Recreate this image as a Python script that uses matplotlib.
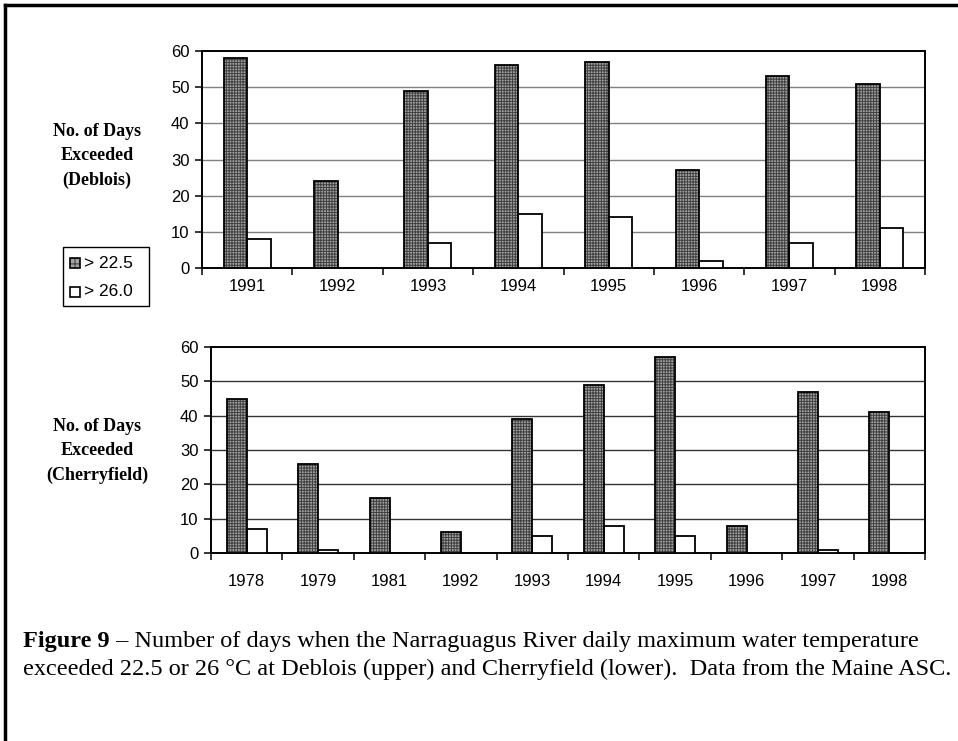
import matplotlib
matplotlib.use("Agg")
import matplotlib.pyplot as plt
from matplotlib.patches import Rectangle
from matplotlib.lines import Line2D
import numpy as np

# ---- data ----
years_deblois = ["1991", "1992", "1993", "1994", "1995", "1996", "1997", "1998"]
deblois_225 = [58, 24, 49, 56, 57, 27, 53, 51]
deblois_260 = [8, 0, 7, 15, 14, 2, 7, 11]

years_cherry = ["1978", "1979", "1981", "1992", "1993", "1994", "1995", "1996", "1997", "1998"]
cherry_225 = [45, 26, 16, 6, 39, 49, 57, 8, 47, 41]
cherry_260 = [7, 1, 0, 0, 5, 8, 5, 0, 1, 0]

series_labels = ["> 22.5", "> 26.0"]
yticks = [0, 10, 20, 30, 40, 50, 60]

W, H = 958, 741
fig = plt.figure(figsize=(W / 100, H / 100), dpi=100)
plt.rcParams['hatch.linewidth'] = 0.7

SANS = ["Liberation Sans", "DejaVu Sans"]
SERIF = ["Liberation Serif", "DejaVu Serif"]
DARK_FACE = "#a2a2a2"
HATCH_COL = "#404040"
HATCH = "++++++"

def px_axes(l, t, r, b):
    return fig.add_axes([l / W, 1 - b / H, (r - l) / W, (b - t) / H])

def draw(ax, cats, v1, v2, bw, gridcolor, xpad):
    x = np.arange(len(cats))
    # hatched fill, then black outline
    ax.bar(x - bw / 2, v1, bw, facecolor=DARK_FACE, edgecolor=HATCH_COL,
           hatch=HATCH, linewidth=0, zorder=3)
    ax.bar(x - bw / 2, v1, bw, fill=False, edgecolor="black", linewidth=1.3, zorder=4)
    ax.bar(x + bw / 2, v2, bw, facecolor="white", edgecolor="black",
           linewidth=1.3, zorder=3)
    ax.set_xlim(-0.5, len(cats) - 0.5)
    ax.set_ylim(0, 60)
    ax.set_yticks(yticks)
    ax.set_yticklabels([str(v) for v in yticks], fontfamily=SANS, fontsize=12)
    ax.set_xticks(x)
    ax.set_xticklabels(cats, fontfamily=SANS, fontsize=12)
    ax.set_xticks(np.arange(len(cats) + 1) - 0.5, minor=True)
    ax.tick_params(axis="x", which="major", length=0, pad=xpad)
    ax.tick_params(axis="x", which="minor", length=5, width=1.1, direction="out")
    ax.tick_params(axis="y", length=5, width=1.1, direction="out", pad=4)
    for s in ax.spines.values():
        s.set_linewidth(1.4)
    for v in yticks[1:-1]:
        ax.axhline(v, color=gridcolor, linewidth=1.0, zorder=1)

ax1 = px_axes(202, 51, 925, 268)
draw(ax1, years_deblois, deblois_225, deblois_260, 0.26, "#808080", 8)
ax2 = px_axes(211, 347, 925, 553)
draw(ax2, years_cherry, cherry_225, cherry_260, 0.28, "#333333", 15)

# y labels
fig.text(97 / W, 1 - 156 / H, "No. of Days\nExceeded\n(Deblois)", ha="center", va="center",
         fontfamily=SERIF, fontweight="bold", fontsize=13, linespacing=1.55)
fig.text(97 / W, 1 - 451 / H, "No. of Days\nExceeded\n(Cherryfield)", ha="center", va="center",
         fontfamily=SERIF, fontweight="bold", fontsize=13, linespacing=1.55)

# legend drawn manually (box, swatches, labels)
def fx(px):
    return px / W

def fy(py):
    return 1 - py / H

fig.add_artist(Rectangle((fx(63), fy(306)), (149 - 63) / W, (306 - 247) / H,
                         transform=fig.transFigure, facecolor="white", edgecolor="black",
                         linewidth=1.0))
rows = [263, 292]
for i, (lab, yy) in enumerate(zip(series_labels, rows)):
    if i == 0:
        fig.add_artist(Rectangle((fx(70), fy(yy + 5)), 10 / W, 10 / H, transform=fig.transFigure,
                                 facecolor=DARK_FACE, edgecolor=HATCH_COL, hatch="+++",
                                 linewidth=0))
        fig.add_artist(Rectangle((fx(70), fy(yy + 5)), 10 / W, 10 / H, transform=fig.transFigure,
                                 fill=False, edgecolor="black", linewidth=1.2))
    else:
        fig.add_artist(Rectangle((fx(70), fy(yy + 5)), 10 / W, 10 / H, transform=fig.transFigure,
                                 facecolor="white", edgecolor="black", linewidth=1.2))
    fig.text(fx(84), fy(yy), lab, fontfamily=SANS, fontsize=12.5, va="center", ha="left")

# caption
t1 = fig.text(23 / W, 1 - 641 / H, "Figure 9", fontfamily=SERIF, fontweight="bold",
              fontsize=17.5, va="center", ha="left")
fig.canvas.draw()
bb = t1.get_window_extent()
fig.text((bb.x1) / W, 1 - 641 / H,
         " \u2013 Number of days when the Narraguagus River daily maximum water temperature",
         fontfamily=SERIF, fontsize=17.5, va="center", ha="left")
fig.text(23 / W, 1 - 669 / H,
         "exceeded 22.5 or 26 \u00b0C at Deblois (upper) and Cherryfield (lower).  Data from the Maine ASC.",
         fontfamily=SERIF, fontsize=17.5, va="center", ha="left")

# outer frame (top and left)
fig.add_artist(Line2D([5 / W, 1], [1 - 5 / H, 1 - 5 / H], color="black", linewidth=2.5,
                      transform=fig.transFigure))
fig.add_artist(Line2D([5 / W, 5 / W], [1 - 5 / H, 0], color="black", linewidth=2.5,
                      transform=fig.transFigure))

fig.savefig("out.png", dpi=100)
